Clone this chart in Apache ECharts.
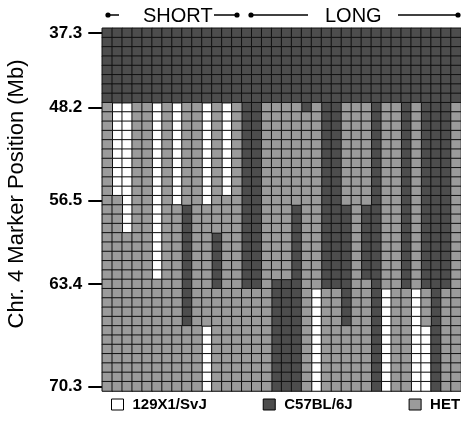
<!DOCTYPE html>
<html><head><meta charset="utf-8">
<script src="https://cdn.jsdelivr.net/npm/echarts@6/dist/echarts.min.js"></script>
<style>html,body{margin:0;padding:0;background:#fff}#c{width:461px;height:423px}</style>
</head><body><div id="c"></div>
<script>
// Genotype per animal (column), top marker to bottom marker, run-length coded:
// W = 129X1/SvJ, B = C57BL/6J, H = HET
const animalGenotypes = [
  'B8 H31','B8 W10 H21','B8 W14 H17','B8 H31','B8 H31','B8 W19 H12','B8 H31','B8 W11 H20',
  'B8 H11 B13 H7','B8 H31','B8 W11 H13 W7','B8 H14 B6 H11','B8 W10 H21',
  'B8 H31','B28 H11','B28 H11','B8 H31','B8 H19 B12','B8 H19 B12','B8 H11 B20','B9 H30',
  'B8 H20 W11','B28 H11','B28 H11','B8 H11 B13 H7','B8 H31','B8 H11 B8 H12','B39',
  'B8 H20 W11','B8 H31','B28 H11','B8 H20 W11','B28 H4 W7','B39','B28 H11','B8 H31'
];
const tickRows = [0, 8, 18, 27, 38];
const tickLabels = ['37.3', '48.2', '56.5', '63.4', '70.3'];
const genotypeNames = ['129X1/SvJ', 'C57BL/6J', 'HET'];
const genotypeCodes = ['W', 'B', 'H'];
const genotypeColors = ['#ffffff', '#4d4d4d', '#9b9b9b'];
const nMarkers = 39;

const animals = animalGenotypes.map((_, i) => 'A' + (i + 1));
const markers = Array.from({length: nMarkers}, (_, i) => 'M' + (i + 1));

function decode(s) {
  const out = [];
  s.split(' ').forEach(tok => { const c = tok[0], n = +tok.slice(1); for (let k = 0; k < n; k++) out.push(c); });
  return out;
}
const cells = genotypeCodes.map(() => []);
animalGenotypes.forEach((s, x) => {
  decode(s).forEach((c, y) => { cells[genotypeCodes.indexOf(c)].push([x, y, 1]); });
});

const FONT = 'Liberation Sans, Arial, sans-serif';
const chart = echarts.init(document.getElementById('c'), null, {renderer: 'canvas'});
const dot = (x, y) => ({type: 'circle', shape: {cx: x, cy: y, r: 2.6}, style: {fill: '#000'}});
const seg = (x1, x2, y) => ({type: 'line', shape: {x1, y1: y, x2, y2: y}, style: {stroke: '#000', lineWidth: 1.5}});
chart.setOption({
  animation: false,
  grid: {left: 102.3, top: 28.3, width: 362.9, height: 362.7, show: true, borderColor: '#a0a0a0', borderWidth: 1, containLabel: false},
  xAxis: {type: 'category', data: animals, axisLine: {show: false}, axisTick: {show: false}, axisLabel: {show: false}, splitLine: {show: false}},
  yAxis: {
    type: 'category', data: markers, inverse: true,
    axisLine: {show: false},
    axisTick: {show: true, alignWithLabel: true, length: 14, interval: i => tickRows.includes(i), lineStyle: {color: '#000', width: 2}},
    axisLabel: {interval: i => tickRows.includes(i), margin: 20, formatter: (v, i) => tickLabels[tickRows.indexOf(i)] || '',
      color: '#000', fontFamily: FONT, fontWeight: 'bold', fontSize: 17},
    splitLine: {show: false}
  },
  legend: {
    left: 111, top: 397, padding: 0, width: 600, itemWidth: 12, itemHeight: 11, itemGap: 56, icon: 'rect',
    itemStyle: {borderColor: '#000', borderWidth: 1},
    textStyle: {fontFamily: FONT, fontWeight: 'bold', fontSize: 15, color: '#000', padding: [0, 0, 0, 4]},
    data: genotypeNames
  },
  series: genotypeNames.map((name, i) => ({
    type: 'heatmap', name, data: cells[i],
    itemStyle: {color: genotypeColors[i], borderColor: '#111', borderWidth: 1},
    emphasis: {disabled: true}
  })),
  graphic: [
    {type: 'text', x: 17, y: 194, rotation: Math.PI / 2,
      style: {text: 'Chr. 4 Marker Position (Mb)', fontFamily: FONT, fontSize: 22, fill: '#000', align: 'center', verticalAlign: 'middle'}},
    dot(108, 15), seg(108, 119, 15),
    {type: 'text', x: 143, y: 16, style: {text: 'SHORT', fontFamily: FONT, fontSize: 20, fill: '#000', verticalAlign: 'middle'}},
    seg(214, 237, 15), dot(237, 15), dot(251, 15), seg(251, 308, 15),
    {type: 'text', x: 325, y: 16, style: {text: 'LONG', fontFamily: FONT, fontSize: 20, fill: '#000', verticalAlign: 'middle'}},
    seg(398, 458, 15), dot(458, 15)
  ]
});
</script></body></html>
